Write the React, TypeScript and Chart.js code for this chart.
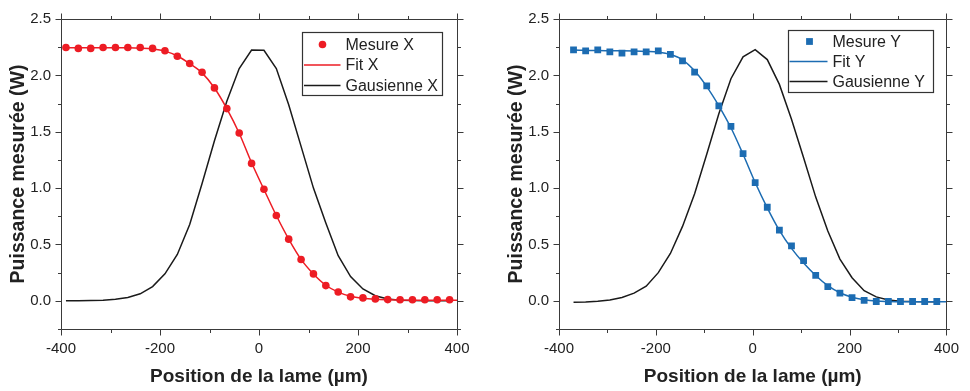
import React, { useEffect, useRef } from 'react';
import { Chart, registerables } from 'chart.js';

Chart.register(...registerables);

// ---- Data: left chart (X) ----
const posX = [-390, -365, -340, -315, -290, -265, -240, -215, -190, -165, -140, -115, -90, -65, -40, -15,
  10, 35, 60, 85, 110, 135, 160, 185, 210, 235, 260, 285, 310, 335, 360, 385];
const mesureX = [2.247, 2.239, 2.239, 2.247, 2.247, 2.247, 2.247, 2.239, 2.218, 2.169, 2.105, 2.028, 1.889, 1.705, 1.489, 1.219,
  0.990, 0.757, 0.547, 0.366, 0.239, 0.135, 0.078, 0.035, 0.026, 0.017, 0.011, 0.010, 0.010, 0.010, 0.010, 0.010];
const fitPosX = [-390, -365, -340, -315, -290, -265, -240, -215, -190, -165, -140, -115, -90, -65, -40, -15,
  10, 35, 60, 85, 110, 135, 160, 185, 210, 235, 260, 285, 310, 335, 360, 385, 400];
const fitX = [2.245, 2.245, 2.245, 2.245, 2.245, 2.244, 2.241, 2.234, 2.215, 2.172, 2.104, 2.022, 1.888, 1.705, 1.487, 1.225,
  0.988, 0.757, 0.548, 0.368, 0.238, 0.138, 0.077, 0.040, 0.022, 0.013, 0.009, 0.007, 0.006, 0.006, 0.006, 0.006, 0.006];
const gaussX = [0.000, 0.000, 0.002, 0.005, 0.013, 0.030, 0.062, 0.126, 0.239, 0.411, 0.677, 1.040, 1.420, 1.770, 2.060, 2.225,
  2.222, 2.060, 1.740, 1.370, 1.000, 0.690, 0.400, 0.215, 0.105, 0.045, 0.017, 0.006, 0.002, 0.001, 0.000, 0.000];

// ---- Data: right chart (Y) ----
const posY = [-370, -345, -320, -295, -270, -245, -220, -195, -170, -145, -120, -95, -70, -45, -20, 5,
  30, 55, 80, 105, 130, 155, 180, 205, 230, 255, 280, 305, 330, 355, 380];
const mesureY = [2.226, 2.218, 2.226, 2.209, 2.198, 2.209, 2.209, 2.218, 2.187, 2.129, 2.028, 1.907, 1.729, 1.547, 1.305, 1.048,
  0.830, 0.628, 0.487, 0.357, 0.225, 0.126, 0.069, 0.029, 0.003, -0.006, -0.006, -0.006, -0.006, -0.006, -0.006];
const fitPosY = [-370, -345, -320, -295, -270, -245, -220, -195, -170, -145, -120, -95, -70, -45, -20, 5,
  30, 55, 80, 105, 130, 155, 180, 205, 230, 255, 280, 305, 330, 355, 380, 400];
const fitY = [2.224, 2.222, 2.220, 2.219, 2.218, 2.216, 2.212, 2.205, 2.185, 2.138, 2.040, 1.900, 1.730, 1.535, 1.300, 1.050,
  0.825, 0.625, 0.465, 0.335, 0.225, 0.135, 0.072, 0.032, 0.010, -0.002, -0.006, -0.008, -0.008, -0.008, -0.008, -0.008];
const gaussY = [-0.012, -0.011, -0.004, 0.008, 0.030, 0.068, 0.130, 0.250, 0.420, 0.660, 0.950, 1.300, 1.660, 1.970, 2.165, 2.228,
  2.140, 1.920, 1.610, 1.270, 0.920, 0.620, 0.370, 0.205, 0.090, 0.035, 0.008, -0.003, -0.007, -0.008, -0.008];

// ---- Axes ----
const xMajorLabels = [-400, -200, 0, 200, 400];
const yMajorLabels = [0, 0.5, 1.0, 1.5, 2.0, 2.5];
const xTitle = 'Position de la lame (µm)';
const yTitle = 'Puissance mesurée (W)';

const FONT = '"Liberation Sans", Arial, Helvetica, sans-serif';
const RED = '#ED1C24';
const BLUE = '#1C6CB2';
const BLACK = '#1a1a1a';
const AXIS = '#3a3a3a';

const isIn = (arr: number[], v: number) => arr.some((a) => Math.abs(a - v) < 1e-6);

const frameLegendPlugin = {
  id: 'frameLegend',
  afterDraw(chart: any, _args: any, opts: any) {
    const { ctx, chartArea: a, scales } = chart;
    const xs = scales.x;
    const ys = scales.y;
    ctx.save();
    ctx.strokeStyle = AXIS;
    ctx.lineWidth = 1;
    const L = Math.round(a.left) + 0.5;
    const R = Math.round(a.right) + 0.5;
    const T = Math.round(a.top) + 0.5;
    const B = Math.round(a.bottom) + 0.5;
    ctx.beginPath();
    ctx.rect(L, T, R - L, B - T);
    ctx.stroke();
    ctx.beginPath();
    xs.ticks.forEach((t: any) => {
      const p = Math.round(xs.getPixelForValue(t.value)) + 0.5;
      const len = isIn(xMajorLabels, t.value) ? 6 : 3.5;
      ctx.moveTo(p, B); ctx.lineTo(p, B + len);
      ctx.moveTo(p, T); ctx.lineTo(p, T - len);
    });
    ys.ticks.forEach((t: any) => {
      const p = Math.round(ys.getPixelForValue(t.value)) + 0.5;
      const len = isIn(yMajorLabels, t.value) ? 6 : 3.5;
      ctx.moveTo(L, p); ctx.lineTo(L - len, p);
      ctx.moveTo(R, p); ctx.lineTo(R + len, p);
    });
    ctx.stroke();

    // legend box
    const bx = Math.round(a.right - opts.right - opts.width) + 0.5;
    const by = Math.round(a.top + opts.top) + 0.5;
    ctx.fillStyle = '#ffffff';
    ctx.fillRect(bx, by, opts.width, opts.height);
    ctx.strokeStyle = '#333333';
    ctx.lineWidth = 1.2;
    ctx.strokeRect(bx, by, opts.width, opts.height);
    ctx.font = `16px ${FONT}`;
    ctx.textBaseline = 'middle';
    ctx.textAlign = 'left';
    chart.data.datasets.forEach((ds: any, i: number) => {
      const cy = by + opts.rowTop + i * opts.rowGap;
      if (ds.showLine) {
        ctx.strokeStyle = ds.borderColor;
        ctx.lineWidth = ds.borderWidth;
        ctx.beginPath();
        ctx.moveTo(bx + opts.lineStart, cy);
        ctx.lineTo(bx + opts.lineEnd, cy);
        ctx.stroke();
      } else {
        ctx.fillStyle = ds.backgroundColor;
        const mx = bx + opts.markerX;
        if (ds.pointStyle === 'rect') {
          const s = ds.pointRadius * Math.SQRT1_2;
          ctx.fillRect(mx - s, cy - s, 2 * s, 2 * s);
        } else {
          ctx.beginPath();
          ctx.arc(mx, cy, ds.pointRadius, 0, Math.PI * 2);
          ctx.fill();
        }
      }
      ctx.fillStyle = '#222222';
      ctx.fillText(ds.label, bx + opts.textX, cy + 1);
    });
    ctx.restore();
  },
};

const toXY = (xs: number[], ys: number[]) => xs.map((x, i) => ({ x, y: ys[i] }));

function makeConfig(kind: 'X' | 'Y', legendOpts: any, padRight: number, padTop: number) {
  const color = kind === 'X' ? RED : BLUE;
  const pos = kind === 'X' ? posX : posY;
  const mes = kind === 'X' ? mesureX : mesureY;
  const fpos = kind === 'X' ? fitPosX : fitPosY;
  const fit = kind === 'X' ? fitX : fitY;
  const gau = kind === 'X' ? gaussX : gaussY;
  return {
    type: 'scatter',
    data: {
      datasets: [
        {
          label: `Mesure ${kind}`,
          data: toXY(pos, mes),
          showLine: false,
          pointStyle: kind === 'X' ? 'circle' : 'rect',
          pointRadius: kind === 'X' ? 3.8 : 4.8,
          backgroundColor: color,
          borderWidth: 0,
          pointBorderWidth: 0,
        },
        {
          label: `Fit ${kind}`,
          data: toXY(fpos, fit),
          showLine: true,
          pointRadius: 0,
          borderColor: color,
          backgroundColor: color,
          borderWidth: 1.5,
          cubicInterpolationMode: 'monotone',
        },
        {
          label: `Gausienne ${kind}`,
          data: toXY(pos, gau),
          showLine: true,
          pointRadius: 0,
          borderColor: BLACK,
          backgroundColor: BLACK,
          borderWidth: 1.5,
          tension: 0,
        },
      ],
    },
    options: {
      responsive: false,
      animation: false,
      events: [],
      layout: { padding: { left: 0, right: padRight, top: padTop, bottom: 0 } },
      plugins: {
        legend: { display: false },
        tooltip: { enabled: false },
        frameLegend: legendOpts,
      },
      scales: {
        x: {
          type: 'linear',
          min: -400,
          max: 400,
          grid: { display: false, drawTicks: false },
          border: { display: false },
          ticks: {
            stepSize: 100,
            autoSkip: false,
            maxRotation: 0,
            padding: 11,
            color: '#222',
            font: { family: FONT, size: 15 },
            callback: (v: number) => (isIn(xMajorLabels, v) ? String(Math.round(v)) : ''),
          },
          title: {
            display: true,
            text: xTitle,
            color: '#222',
            font: { family: FONT, size: 19, weight: 'bold' },
            padding: { top: 0, bottom: 3 },
          },
          afterFit: (s: any) => { s.height = 62; },
        },
        y: {
          type: 'linear',
          min: -0.25,
          max: 2.5,
          grid: { display: false, drawTicks: false },
          border: { display: false },
          ticks: {
            stepSize: 0.25,
            autoSkip: false,
            padding: 10,
            color: '#222',
            font: { family: FONT, size: 15 },
            callback: (v: number) => (isIn(yMajorLabels, v) ? Number(v).toFixed(1) : ''),
          },
          title: {
            display: true,
            text: yTitle,
            color: '#222',
            font: { family: FONT, size: 19.5, weight: 'bold' },
            padding: { top: 7, bottom: 0 },
          },
          afterFit: (s: any) => { s.width = 61; },
        },
      },
    },
    plugins: [frameLegendPlugin],
  };
}

function ChartCanvas({ kind, width, legendOpts, padRight, padTop }: any) {
  const ref = useRef<HTMLCanvasElement | null>(null);
  useEffect(() => {
    if (!ref.current) return;
    const chart = new Chart(ref.current, makeConfig(kind, legendOpts, padRight, padTop) as any);
    return () => chart.destroy();
  }, []);
  return <canvas ref={ref} width={width} height={391} style={{ display: 'block', width, height: 391 }} />;
}

export default function App() {
  return (
    <div style={{ position: 'absolute', left: 0, top: 0, width: 970, height: 391, background: '#fff' }}>
      <div style={{ position: 'absolute', left: 0, top: 0 }}>
        <ChartCanvas
          kind="X"
          width={485}
          padRight={28}
          padTop={11}
          legendOpts={{ right: 15, top: 13, width: 140, height: 63, rowTop: 12, rowGap: 20.5, lineStart: 1.5, lineEnd: 38, markerX: 20, textX: 43 }}
        />
      </div>
      <div style={{ position: 'absolute', left: 498, top: 0 }}>
        <ChartCanvas
          kind="Y"
          width={472}
          padRight={16}
          padTop={10}
          legendOpts={{ right: 13, top: 11, width: 145, height: 62, rowTop: 11, rowGap: 20, lineStart: 1, lineEnd: 39, markerX: 21, textX: 44 }}
        />
      </div>
    </div>
  );
}
